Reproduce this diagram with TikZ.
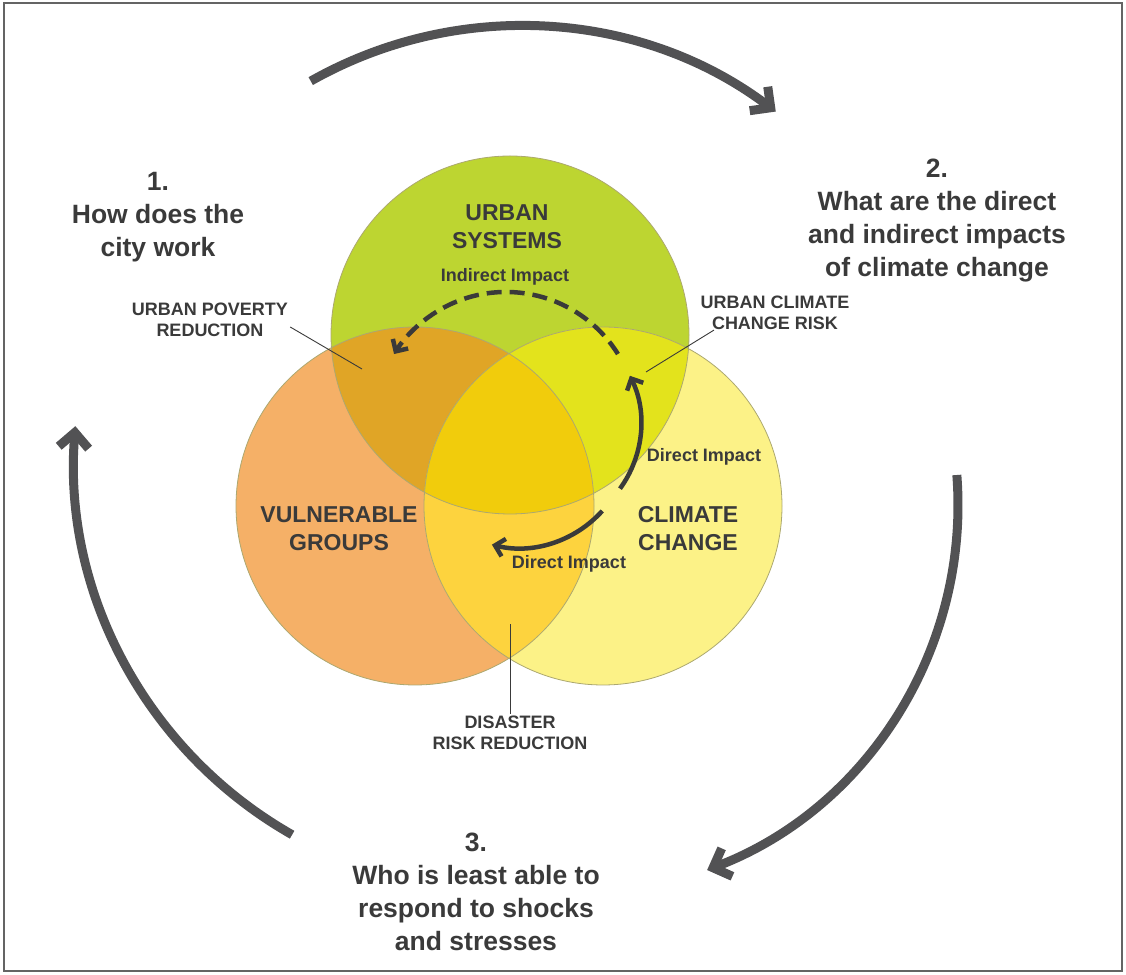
\documentclass[tikz,border=0pt]{standalone}
\usepackage{fontspec}
\setmainfont{Liberation Sans}
\usetikzlibrary{arrows.meta}
\definecolor{txt}{RGB}{58,58,58}
\definecolor{arrowgray}{RGB}{82,82,84}
\definecolor{framegray}{RGB}{100,100,100}
\definecolor{rim}{RGB}{172,168,112}
\definecolor{usfill}{RGB}{189,213,49}
\definecolor{vgfill}{RGB}{245,176,103}
\definecolor{ccfill}{RGB}{252,242,135}
\definecolor{usvg}{RGB}{224,165,38}
\definecolor{uscc}{RGB}{227,227,28}
\definecolor{vgcc}{RGB}{253,211,62}
\definecolor{allthree}{RGB}{241,204,12}

\begin{document}
\begin{tikzpicture}[x=1pt,y=1pt,
  ask/.style={font=\bfseries\fontsize{26.5}{33}\selectfont,text=txt,align=center},
  big/.style={font=\bfseries\fontsize{23}{28}\selectfont,text=txt,align=center},
  small/.style={font=\bfseries\fontsize{18}{21}\selectfont,text=txt,align=center,inner sep=2pt},
  leader/.style={draw=txt,line width=0.9pt},
  bigarc/.style={draw=arrowgray,line width=9pt,-{Straight Barb[length=15pt,width=30pt]}},
  impact/.style={draw=txt,line width=4.5pt,-{Straight Barb[length=9pt,width=18pt]}}]

\useasboundingbox (0,0) rectangle (1126,974);
\draw[framegray,line width=2pt] (4,3) rectangle (1122,971);

% circle centres
\coordinate (us) at (510,639);
\coordinate (vg) at (415,468);
\coordinate (cc) at (603,468);

\fill[usfill] (us) circle (179);
\fill[vgfill] (vg) circle (179);
\fill[ccfill] (cc) circle (179);
\begin{scope}
\clip (us) circle (179);
\fill[usvg] (vg) circle (179);
\fill[uscc] (cc) circle (179);
\end{scope}
\begin{scope}
\clip (vg) circle (179);
\fill[vgcc] (cc) circle (179);
\clip (us) circle (179);
\fill[allthree] (cc) circle (179);
\end{scope}
\draw[rim,line width=0.8pt] (us) circle (179) (vg) circle (179) (cc) circle (179);

% big cycle
\draw[bigarc] (520,523) ++(119.5:425) arc[start angle=119.5,end angle=53,radius=425];
\draw[bigarc] (567,469) ++(4.4:391) arc[start angle=4.4,end angle=-69,radius=391];
\draw[bigarc] (505,514) ++(240.4:431) arc[start angle=240.4,end angle=175.5,radius=431];

% impacts
\draw[impact,dash pattern=on 15pt off 8pt] (506,550) ++(32:132) arc[start angle=32,end angle=148,radius=132];
\draw[impact] (531,550) ++(-36:110) arc[start angle=-36,end angle=26,radius=110];
\draw[impact] (519,538) ++(-42:112) arc[start angle=-42,end angle=-104,radius=112];

\node[ask] (q1) at (158,757) {1.\\How does the\\city work};
\node[ask] (q2) at (937,753) {2.\\What are the direct\\and indirect impacts\\of climate change};
\node[ask] (q3) at (476,82) {3.\\Who is least able to\\respond to shocks\\and stresses};

\node[big] (urban) at (507,747) {URBAN\\SYSTEMS};
\node[big] (vuln) at (339,445) {VULNERABLE\\GROUPS};
\node[big] (clim) at (688,445) {CLIMATE\\CHANGE};

\node[small] (ind) at (505,697) {Indirect Impact};
\node[small] (dir1) at (704,517) {Direct Impact};
\node[small] (dir2) at (569,410) {Direct Impact};

\node[small] (pov) at (210,654) {URBAN POVERTY\\REDUCTION};
\node[small] (ucr) at (775,661) {URBAN CLIMATE\\CHANGE RISK};
\node[small] (drr) at (510,241) {DISASTER\\RISK REDUCTION};

\coordinate (povdot) at (362,605);
\coordinate (ucrdot) at (646,602);
\coordinate (drrdot) at (510,350);
\draw[leader] ([yshift=-7pt]pov.east) -- (povdot);
\draw[leader] ([xshift=-61pt,yshift=2pt]ucr.south) -- (ucrdot);
\draw[leader] (drr.north) -- (drrdot);

\end{tikzpicture}
\end{document}
